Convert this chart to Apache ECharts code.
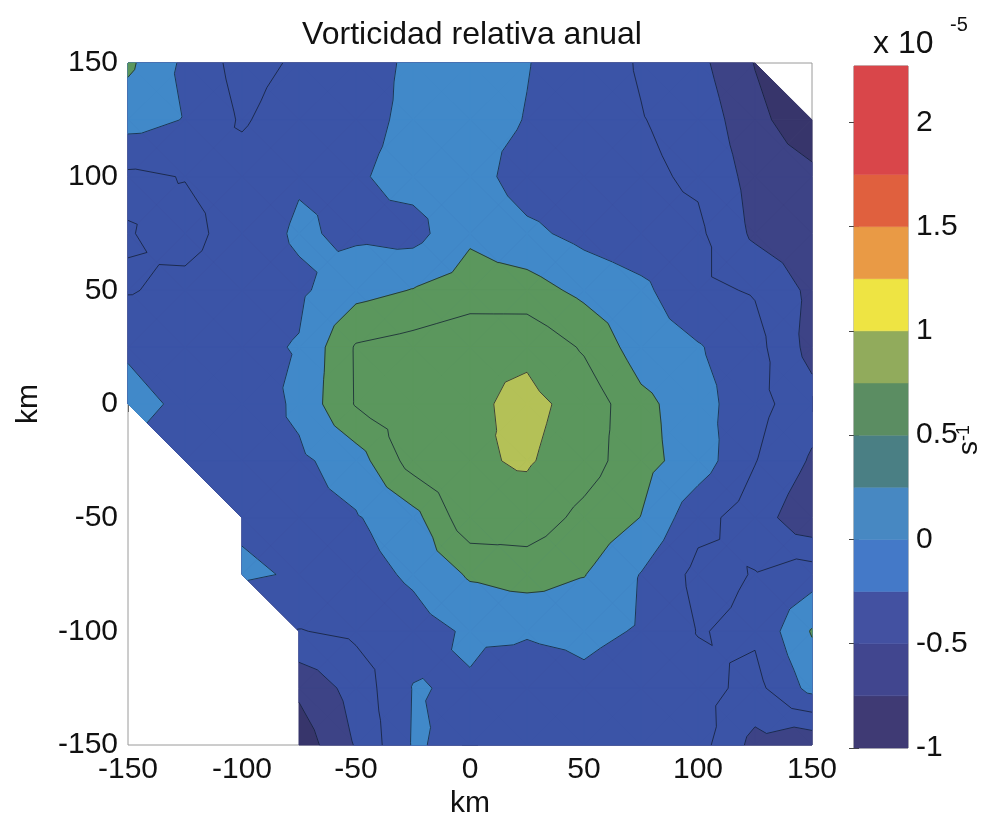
<!DOCTYPE html>
<html>
<head>
<meta charset="utf-8">
<title>Vorticidad relativa anual</title>
<script src="https://cdn.jsdelivr.net/npm/echarts@6/dist/echarts.min.js"></script>
<style>
  html, body { margin: 0; padding: 0; background: #fff; }
  #chart { width: 1006px; height: 823px; }
</style>
</head>
<body>
<div id="chart"></div>
<script>
// grid nodes (km)
const xKm = [-150, -125, -100, -75, -50, -25, 0, 25, 50, 75, 100, 125, 150];
const yKm = [150, 125, 100, 75, 50, 25, 0, -25, -50, -75, -100, -125, -150];

// relative vorticity, units of 1e-5 s^-1, rows from top (y=150) down; null = no data
const vort = [
  [0.30, -0.05, -0.35, -0.21, -0.15, 0.06, 0.12, 0.01, -0.13, -0.27, -0.43, -0.76, null],
  [0.10, -0.01, -0.28, -0.10, -0.10, 0.07, 0.10, -0.01, -0.14, -0.24, -0.34, -0.68, -0.92],
  [-0.30, -0.24, -0.14, -0.02, -0.03, 0.09, 0.12, -0.135, -0.18, -0.20, -0.29, -0.59, -0.69],
  [-0.235, -0.35, -0.11, 0.03, -0.045, -0.09, 0.21, 0.06, -0.076, -0.17, -0.20, -0.55, -0.65],
  [-0.27, -0.175, -0.10, -0.045, 0.164, 0.26, 0.36, 0.36, 0.185, 0.06, -0.20, -0.27, -0.56],
  [-0.02, -0.10, -0.057, 0.015, 0.525, 0.60, 0.70, 0.695, 0.47, 0.12, 0.02, -0.16, -0.59],
  [0.05, -0.03, -0.20, 0.06, 0.52, 0.66, 0.70, 0.82, 0.66, 0.32, 0.10, -0.17, -0.40],
  [null, -0.10, -0.10, -0.05, 0.13, 0.61, 0.72, 0.774, 0.62, 0.334, 0.13, -0.24, -0.53],
  [null, null, -0.03, -0.08, -0.02, 0.16, 0.68, 0.648, 0.43, 0.245, -0.17, -0.37, -0.70],
  [null, null, 0.03, -0.02, -0.10, 0.04, 0.28, 0.358, 0.26, -0.01, -0.32, -0.24, -0.12],
  [null, null, null, -0.26, -0.20, -0.10, 0.035, 0.025, 0.06, -0.02, -0.26, -0.21, 0.27],
  [null, null, null, -0.70, -0.40, 0.01, -0.02, -0.15, -0.06, -0.15, -0.16, -0.33, 0.08],
  [null, null, null, -0.90, -0.48, 0.02, -0.06, -0.15, -0.12, -0.18, -0.15, -0.58, -0.70]
];

// filled bands: colour of everything >= each level (first entry = lowest band)
const fillLevels = [-Infinity, -0.75, -0.5, 0, 0.25, 0.75];
const fillColors = ['#37356b', '#3d4386', '#3b54a7', '#4189c9', '#5b975d', '#b4c157'];
// contour lines
const lineLevels = [-0.75, -0.5, -0.25, 0, 0.25, 0.5, 0.75];

// colorbar
const cbEdges = [-1, -0.75, -0.5, -0.25, 0, 0.25, 0.5, 0.75, 1, 1.25, 1.5, 1.75, 2.27];
const cbColors = ['#3f3a74', '#41468f', '#4351a1', '#4479c8', '#4788c2', '#4a7f84',
  '#5b8d62', '#91ab5c', '#eee443', '#e99a45', '#e0603e', '#d9464a'];
const cbTicks = [-1, -0.5, 0, 0.5, 1, 1.5, 2];

const FONT = 'Liberation Sans, Arial, sans-serif';

function node(i, j) {
  return { x: xKm[i], y: yKm[j], v: vort[j][i] };
}

// split a cell into triangles; centre value is the mean of the corners
function cellTriangles(c, r) {
  const pts = [node(c, r), node(c + 1, r), node(c + 1, r + 1), node(c, r + 1)];
  const ok = pts.filter(p => p.v !== null);
  if (ok.length === 4) {
    const m = {
      x: (pts[0].x + pts[1].x) / 2,
      y: (pts[0].y + pts[3].y) / 2,
      v: (pts[0].v + pts[1].v + pts[2].v + pts[3].v) / 4
    };
    return [[m, pts[0], pts[1]], [m, pts[1], pts[2]], [m, pts[2], pts[3]], [m, pts[3], pts[0]]];
  }
  if (ok.length === 3) return [ok];
  return [];
}

// part of a polygon where v >= L
function clipAbove(poly, L) {
  if (L === -Infinity) return poly;
  const out = [];
  for (let k = 0; k < poly.length; k++) {
    const a = poly[k], b = poly[(k + 1) % poly.length];
    const ina = a.v >= L, inb = b.v >= L;
    if (ina) out.push(a);
    if (ina !== inb) {
      const t = (L - a.v) / (b.v - a.v);
      out.push({ x: a.x + t * (b.x - a.x), y: a.y + t * (b.y - a.y), v: L });
    }
  }
  return out;
}

function isoSegment(tri, L) {
  const pts = [];
  for (let k = 0; k < 3; k++) {
    const a = tri[k], b = tri[(k + 1) % 3];
    if ((a.v - L) * (b.v - L) < 0) {
      const t = (L - a.v) / (b.v - a.v);
      pts.push({ x: a.x + t * (b.x - a.x), y: a.y + t * (b.y - a.y) });
    }
  }
  return pts.length === 2 ? pts : null;
}

const cells = [];
for (let r = 0; r < yKm.length - 1; r++) {
  for (let c = 0; c < xKm.length - 1; c++) {
    cells.push([(xKm[c] + xKm[c + 1]) / 2, (yKm[r] + yKm[r + 1]) / 2, c, r]);
  }
}

const cbData = cbColors.map((col, k) => [0.5, cbEdges[k], cbEdges[k + 1], k]);

// one series per filled level, so every layer is painted over the whole map before the next
function fillLayer(k) {
  const L = fillLevels[k], col = fillColors[k];
  return {
    name: 'relleno ' + k,
    type: 'custom',
    xAxisIndex: 0, yAxisIndex: 0,
    encode: { x: 0, y: 1 },
    data: cells,
    z: 1 + k * 0.01,
    renderItem(params, api) {
      const children = [];
      cellTriangles(api.value(2), api.value(3)).forEach(tri => {
        const p = clipAbove(tri, L);
        if (p.length >= 3) {
          children.push({
            type: 'polygon',
            shape: { points: p.map(q => api.coord([q.x, q.y])) },
            style: { fill: col, stroke: col, lineWidth: 1, lineJoin: 'round' }
          });
        }
      });
      return { type: 'group', children };
    }
  };
}

const chart = echarts.init(document.getElementById('chart'));

const tickStyle = { inside: true, length: 8, lineStyle: { color: '#666' } };
const labelStyle = { fontSize: 30, color: '#111', fontFamily: FONT };

chart.setOption({
  backgroundColor: '#fff',
  animation: false,
  textStyle: { fontFamily: FONT },
  title: {
    text: 'Vorticidad relativa anual',
    left: 467,
    top: 14,
    textAlign: 'center',
    textStyle: { fontSize: 32, fontWeight: 'normal', color: '#111', fontFamily: FONT }
  },
  graphic: [
    { type: 'text', left: 873, top: 28, style: { text: 'x 10', fontSize: 32, fill: '#111', fontFamily: FONT } },
    { type: 'text', left: 950, top: 15, style: { text: '-5', fontSize: 20, fill: '#111', fontFamily: FONT } },
    {
      type: 'text', x: 969, y: 440, rotation: Math.PI / 2,
      style: {
        text: 's{sup|-1}', fontSize: 28, fill: '#111', fontFamily: FONT,
        align: 'center', verticalAlign: 'middle',
        rich: { sup: { fontSize: 18, verticalAlign: 'top', fill: '#111', fontFamily: FONT } }
      }
    }
  ],
  grid: [
    { left: 128, top: 63, width: 684, height: 682, outerBoundsMode: 'none', containLabel: false,
      show: true, borderColor: '#9a9a9a', borderWidth: 1, backgroundColor: 'transparent' },
    { left: 854, top: 66, width: 54, height: 682, outerBoundsMode: 'none', containLabel: false,
      show: true, borderColor: '#888', borderWidth: 1, backgroundColor: 'transparent' }
  ],
  xAxis: [
    {
      gridIndex: 0, type: 'value', min: -150, max: 150, interval: 50,
      name: 'km', nameLocation: 'middle', nameGap: 44, nameMoveOverlap: false,
      nameTextStyle: { fontSize: 30, color: '#111', fontFamily: FONT },
      axisLine: { show: false }, axisTick: tickStyle, splitLine: { show: false },
      axisLabel: Object.assign({ margin: 10 }, labelStyle)
    },
    {
      gridIndex: 0, type: 'value', min: -150, max: 150, interval: 50, position: 'top',
      axisLine: { show: false }, axisTick: tickStyle, splitLine: { show: false },
      axisLabel: { show: false }
    },
    {
      gridIndex: 1, type: 'value', min: 0, max: 1, show: false
    }
  ],
  yAxis: [
    {
      gridIndex: 0, type: 'value', min: -150, max: 150, interval: 50,
      name: 'km', nameLocation: 'middle', nameGap: 84, nameRotate: 90, nameMoveOverlap: false,
      nameTextStyle: { fontSize: 30, color: '#111', fontFamily: FONT },
      axisLine: { show: false }, axisTick: tickStyle, splitLine: { show: false },
      axisLabel: Object.assign({ margin: 10 }, labelStyle)
    },
    {
      gridIndex: 0, type: 'value', min: -150, max: 150, interval: 50, position: 'right',
      axisLine: { show: false }, axisTick: tickStyle, splitLine: { show: false },
      axisLabel: { show: false }
    },
    {
      gridIndex: 1, type: 'value', min: -1, max: 2.27, interval: 0.5, position: 'right',
      axisLine: { show: false },
      axisTick: { inside: true, length: 5, lineStyle: { color: '#444' } },
      splitLine: { show: false },
      axisLabel: Object.assign({
        margin: 8, showMaxLabel: false,
        formatter: v => (cbTicks.indexOf(v) >= 0 ? String(v) : '')
      }, labelStyle)
    },
    {
      gridIndex: 1, type: 'value', min: -1, max: 2.27, interval: 0.5, position: 'left',
      axisLine: { show: false },
      axisTick: { inside: true, length: 5, lineStyle: { color: '#444' } },
      splitLine: { show: false }, axisLabel: { show: false }
    }
  ],
  series: fillLevels.map((L, k) => fillLayer(k)).concat([
    {
      name: 'isolineas',
      type: 'custom',
      xAxisIndex: 0, yAxisIndex: 0,
      encode: { x: 0, y: 1 },
      data: cells,
      z: 2,
      renderItem(params, api) {
        const children = [];
        cellTriangles(api.value(2), api.value(3)).forEach(tri => {
          lineLevels.forEach(L => {
            const s = isoSegment(tri, L);
            if (!s) return;
            const a = api.coord([s[0].x, s[0].y]), b = api.coord([s[1].x, s[1].y]);
            children.push({
              type: 'line',
              shape: { x1: a[0], y1: a[1], x2: b[0], y2: b[1] },
              style: { stroke: 'rgba(18,28,48,0.75)', lineWidth: 1 }
            });
          });
        });
        return { type: 'group', children };
      }
    },
    {
      name: 'colorbar',
      type: 'custom',
      xAxisIndex: 2, yAxisIndex: 2,
      encode: { x: 0, y: [1, 2] },
      data: cbData,
      renderItem(params, api) {
        const lo = api.coord([0, api.value(1)]);
        const hi = api.coord([1, api.value(2)]);
        const col = cbColors[api.value(3)];
        return {
          type: 'rect',
          shape: { x: lo[0], y: hi[1], width: hi[0] - lo[0], height: lo[1] - hi[1] },
          style: { fill: col, stroke: col, lineWidth: 0.5 }
        };
      }
    }
  ])
});
</script>
</body>
</html>
